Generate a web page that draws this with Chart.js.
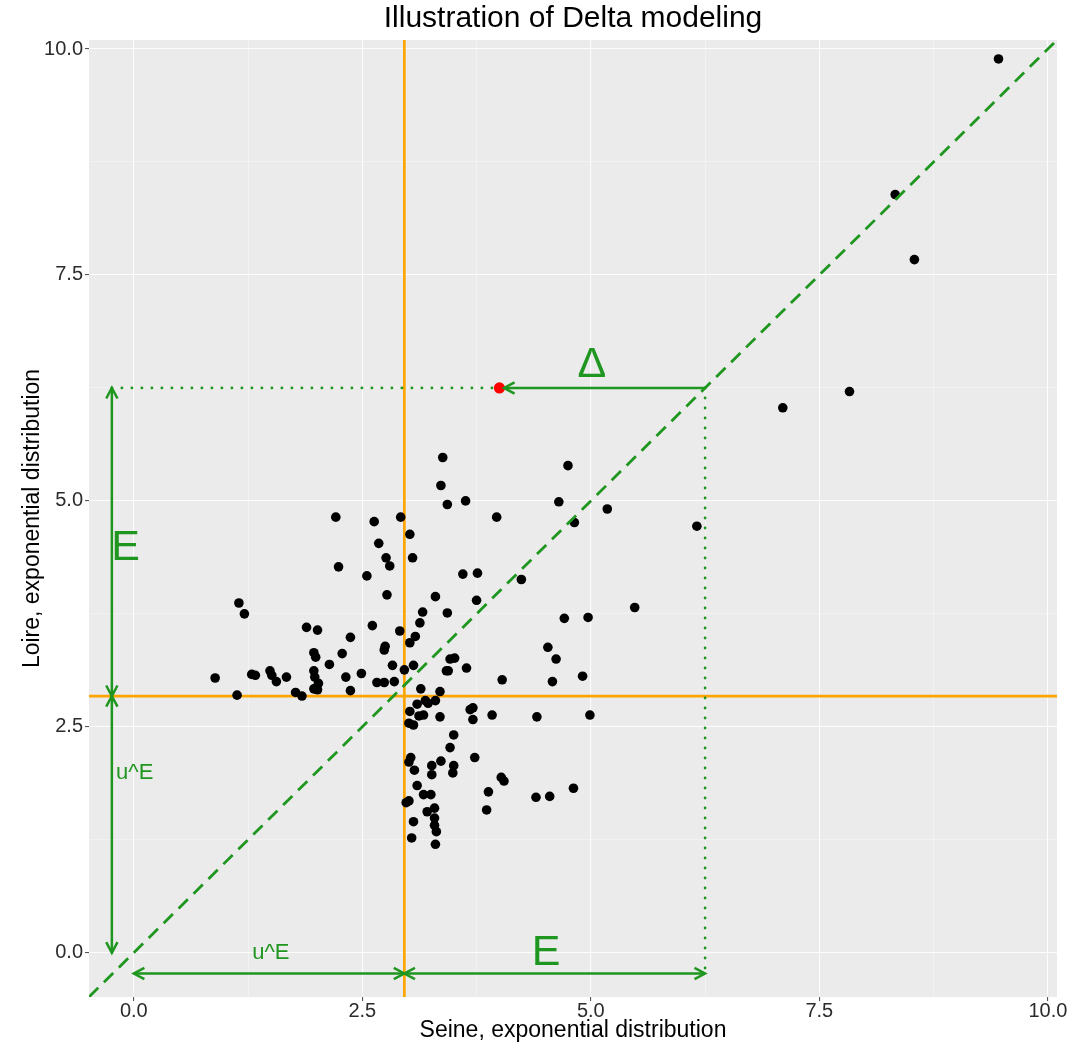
<!DOCTYPE html>
<html>
<head>
<meta charset="utf-8">
<script src="https://cdn.jsdelivr.net/npm/chart.js@4.4.1/dist/chart.umd.min.js"></script>
<style>
  html, body { margin: 0; padding: 0; background: #fff; }
  canvas { display: block; }
</style>
</head>
<body>
<canvas id="chart" width="1081" height="1044"></canvas>
<script>
// --- data ---
const seineX = [
  3.38, 3.36, 3.43, 3.63, 3.97, 2.21, 2.63, 2.92, 3.02, 2.68,
  3.05, 2.76, 2.80, 2.24, 2.55, 3.60, 3.76, 2.77, 3.30, 3.75,
  1.15, 1.21, 3.16, 3.43, 3.13, 1.89, 2.01, 2.61, 2.91, 3.08,
  2.37, 3.02, 2.75, 2.74, 1.97, 1.99, 2.28, 2.14, 2.83, 2.96,
  3.06, 3.46, 3.51, 3.64, 3.42, 3.44, 0.89, 1.29, 1.33, 1.49,
  1.51, 1.56, 1.67, 1.97, 1.98, 2.02, 1.97, 2.01, 2.32, 2.49,
  2.66, 2.74, 2.85, 2.37, 4.03, 1.13, 1.77, 1.84, 3.14, 3.35,
  3.10, 3.19, 3.22, 3.30, 3.02, 3.12, 3.17, 3.35, 3.68, 3.71,
  3.71, 3.92, 4.53, 4.62, 4.91, 4.58, 4.41, 4.99, 3.01, 3.06,
  3.50, 3.46, 3.73, 3.03, 3.01, 3.26, 3.36, 3.50, 3.49, 3.07,
  3.26, 4.02, 4.05, 3.10, 3.17, 3.25, 3.88, 4.40, 4.55, 4.81,
  2.98, 3.01, 3.29, 3.21, 3.86, 3.29, 3.06, 3.29, 3.31, 3.04,
  3.30, 4.75, 4.65, 5.18, 4.82, 6.16, 4.24, 5.48, 4.71, 4.97,
  8.33, 8.54, 7.10, 7.83, 9.46
];
const loireY = [
  5.48, 5.17, 4.96, 5.00, 4.82, 4.82, 4.77, 4.82, 4.63, 4.53,
  4.37, 4.37, 4.28, 4.27, 4.17, 4.19, 4.20, 3.96, 3.94, 3.90,
  3.87, 3.75, 3.77, 3.76, 3.65, 3.60, 3.57, 3.62, 3.56, 3.50,
  3.49, 3.43, 3.39, 3.35, 3.32, 3.27, 3.31, 3.19, 3.18, 3.13,
  3.18, 3.25, 3.26, 3.15, 3.12, 3.12, 3.04, 3.08, 3.07, 3.12,
  3.07, 3.00, 3.05, 3.12, 3.05, 2.98, 2.92, 2.91, 3.05, 3.09,
  2.99, 2.99, 3.00, 2.90, 3.02, 2.85, 2.88, 2.84, 2.92, 2.89,
  2.75, 2.79, 2.76, 2.79, 2.67, 2.62, 2.63, 2.61, 2.69, 2.71,
  2.58, 2.63, 3.38, 3.25, 3.06, 3.00, 2.61, 2.63, 2.54, 2.52,
  2.41, 2.27, 2.16, 2.16, 2.11, 2.07, 2.12, 2.07, 1.99, 2.02,
  1.97, 1.94, 1.90, 1.85, 1.75, 1.75, 1.78, 1.72, 1.73, 1.82,
  1.66, 1.68, 1.60, 1.56, 1.58, 1.49, 1.45, 1.41, 1.34, 1.27,
  1.20, 5.39, 4.99, 4.91, 4.76, 4.72, 4.13, 3.82, 3.70, 3.71,
  8.39, 7.67, 6.03, 6.21, 9.89
];

const redPoint = [4.0, 6.25];          // highlighted observation (Seine, Loire)
const diagonal = 6.25;                  // where the y = x line meets the red point's level
const uSeine = 2.96;                    // threshold u^E on the Seine axis
const uLoire = 2.84;                    // threshold u^E on the Loire axis
const arrowLeftX = -0.24;               // position of the vertical arrow (x)
const arrowBottomY = -0.23;             // position of the horizontal arrow (y)
const axisRange = [-0.49, 10.1];

const majorTicks = [0, 2.5, 5, 7.5, 10];
const minorTicks = [1.25, 3.75, 6.25, 8.75];
const tickLabels = ['0.0', '2.5', '5.0', '7.5', '10.0'];

const annoText = ['E', 'u^E', 'u^E', 'E', '\u0394'];
const annoX = [-0.09, 0.01, 1.50, 4.51, 5.01];
const annoY = [4.48, 1.99, 0.0, 0.0, 6.50];

// --- styling ---
const GREEN = '#1f961f';
const ORANGE = '#FFA500';
const FONT = '"Liberation Sans", Arial, Helvetica, sans-serif';
const annoBig = { 'E': 43, '\u0394': 43, 'u^E': 22 };

const segment = (xs, ys) => xs.map((x, i) => ({ x: x, y: ys[i] }));

function arrowHead(ctx, from, to) {
    const ang = Math.atan2(to.y - from.y, to.x - from.x);
    const len = 12, spread = Math.PI * 28 / 180;
    ctx.beginPath();
    ctx.moveTo(to.x - len * Math.cos(ang - spread), to.y - len * Math.sin(ang - spread));
    ctx.lineTo(to.x, to.y);
    ctx.lineTo(to.x - len * Math.cos(ang + spread), to.y - len * Math.sin(ang + spread));
    ctx.stroke();
}

const panelPlugin = {
    id: 'panel',
    beforeDraw(chart) {
        const { ctx, chartArea: a } = chart;
        ctx.save();
        ctx.fillStyle = '#EBEBEB';
        ctx.fillRect(a.left, a.top, a.right - a.left, a.bottom - a.top);
        ctx.restore();
    },
    afterDraw(chart) {
        const { ctx, chartArea: a, scales } = chart;
        ctx.save();
        // title
        ctx.fillStyle = '#000';
        ctx.font = '30px ' + FONT;
        ctx.textAlign = 'center';
        ctx.textBaseline = 'middle';
        ctx.fillText('Illustration of Delta modeling', (a.left + a.right) / 2, 19);
        // annotations
        ctx.fillStyle = GREEN;
        annoText.forEach((t, i) => {
            ctx.font = annoBig[t] + 'px ' + FONT;
            ctx.fillText(t, scales.x.getPixelForValue(annoX[i]), scales.y.getPixelForValue(annoY[i]));
        });
        ctx.restore();
    }
};

const arrowPlugin = {
    id: 'arrows',
    afterDatasetsDraw(chart) {
        const ctx = chart.ctx;
        chart.data.datasets.forEach((ds, i) => {
            if (!ds.arrowEnds) return;
            const pts = chart.getDatasetMeta(i).data;
            const a = pts[0], b = pts[pts.length - 1];
            ctx.save();
            ctx.strokeStyle = ds.borderColor;
            ctx.lineWidth = ds.borderWidth;
            ctx.lineCap = 'butt';
            ctx.lineJoin = 'miter';
            if (ds.arrowEnds.includes('start')) arrowHead(ctx, b, a);
            if (ds.arrowEnds.includes('end')) arrowHead(ctx, a, b);
            ctx.restore();
        });
    }
};

const lineDs = (data, color, width, extra) => Object.assign({
    type: 'line', data: data, borderColor: color, borderWidth: width,
    pointRadius: 0, showLine: true, fill: false, tension: 0
}, extra || {});

const datasets = [
    // green dashed y = x
    lineDs(segment(axisRange, axisRange), GREEN, 2.8, { borderDash: [13, 8], order: 1 }),
    // dotted guides
    lineDs(segment([arrowLeftX, redPoint[0]], [redPoint[1], redPoint[1]]), GREEN, 2.8,
        { borderDash: [0.1, 9.9], borderCapStyle: 'round', order: 1 }),
    lineDs(segment([diagonal, diagonal], [diagonal, arrowBottomY]), GREEN, 2.8,
        { borderDash: [0.1, 9.9], borderCapStyle: 'round', order: 1 }),
    // arrows
    lineDs(segment([diagonal, redPoint[0] + 0.05], [redPoint[1], redPoint[1]]), GREEN, 2.5, { arrowEnds: ['end'], order: 1 }),
    lineDs(segment([arrowLeftX, arrowLeftX], [uLoire, redPoint[1]]), GREEN, 2.5, { arrowEnds: ['start', 'end'], order: 1 }),
    lineDs(segment([arrowLeftX, arrowLeftX], [0, uLoire]), GREEN, 2.5, { arrowEnds: ['start', 'end'], order: 1 }),
    lineDs(segment([0, uSeine], [arrowBottomY, arrowBottomY]), GREEN, 2.5, { arrowEnds: ['start', 'end'], order: 1 }),
    lineDs(segment([uSeine, diagonal], [arrowBottomY, arrowBottomY]), GREEN, 2.5, { arrowEnds: ['start', 'end'], order: 1 }),
    // points
    {
        type: 'scatter', data: segment(seineX, loireY), order: 2,
        pointRadius: 4.8, pointBackgroundColor: '#000', pointBorderWidth: 0, borderColor: '#000'
    },
    {
        type: 'scatter', data: [{ x: redPoint[0], y: redPoint[1] }], order: 0,
        pointRadius: 5.6, pointBackgroundColor: '#FF0000', pointBorderWidth: 0
    },
    // orange thresholds
    lineDs(segment([uSeine, uSeine], axisRange), ORANGE, 2.7, { order: 3 }),
    lineDs(segment(axisRange, [uLoire, uLoire]), ORANGE, 2.7, { order: 3 })
];

const allTicks = majorTicks.concat(minorTicks).sort((a, b) => a - b);
const isMajor = v => majorTicks.some(m => Math.abs(m - v) < 1e-6);
const labelFor = v => {
    const i = majorTicks.findIndex(m => Math.abs(m - v) < 1e-6);
    return i >= 0 ? tickLabels[i] : '';
};

function axis(title, isX) {
    return {
        type: 'linear',
        min: axisRange[0],
        max: axisRange[1],
        afterBuildTicks: s => { s.ticks = allTicks.map(v => ({ value: v })); },
        afterFit: s => { if (isX) s.height = 47; else s.width = 89; },
        ticks: {
            callback: v => labelFor(v),
            autoSkip: false,
            maxRotation: 0,
            color: '#2b2b2b',
            padding: isX ? -2 : 2,
            font: { family: FONT, size: 20 }
        },
        grid: {
            color: c => isMajor(c.tick.value) ? 'rgba(255,255,255,0.9)' : 'rgba(255,255,255,0.6)',
            lineWidth: c => isMajor(c.tick.value) ? 1.1 : 0.6,
            tickColor: c => isMajor(c.tick.value) ? '#555555' : 'rgba(0,0,0,0)',
            tickLength: 4,
            tickWidth: 1.1
        },
        border: { display: false },
        title: {
            display: true,
            text: title,
            color: '#000',
            font: { family: FONT, size: 23 },
            padding: isX ? { top: 0, bottom: 0 } : { top: 19, bottom: 0 }
        }
    };
}

window.onload = () => {
    const ctx = document.getElementById('chart').getContext('2d');
    new Chart(ctx, {
        type: 'scatter',
        data: { datasets },
        options: {
            responsive: false,
            animation: false,
            devicePixelRatio: 1,
            layout: { padding: { left: 0, right: 24, top: 40, bottom: 0 } },
            plugins: {
                legend: { display: false },
                tooltip: { enabled: false },
                title: { display: false }
            },
            scales: {
                x: axis('Seine, exponential distribution', true),
                y: axis('Loire, exponential distribution', false)
            }
        },
        plugins: [panelPlugin, arrowPlugin]
    });
};
</script>
</body>
</html>
